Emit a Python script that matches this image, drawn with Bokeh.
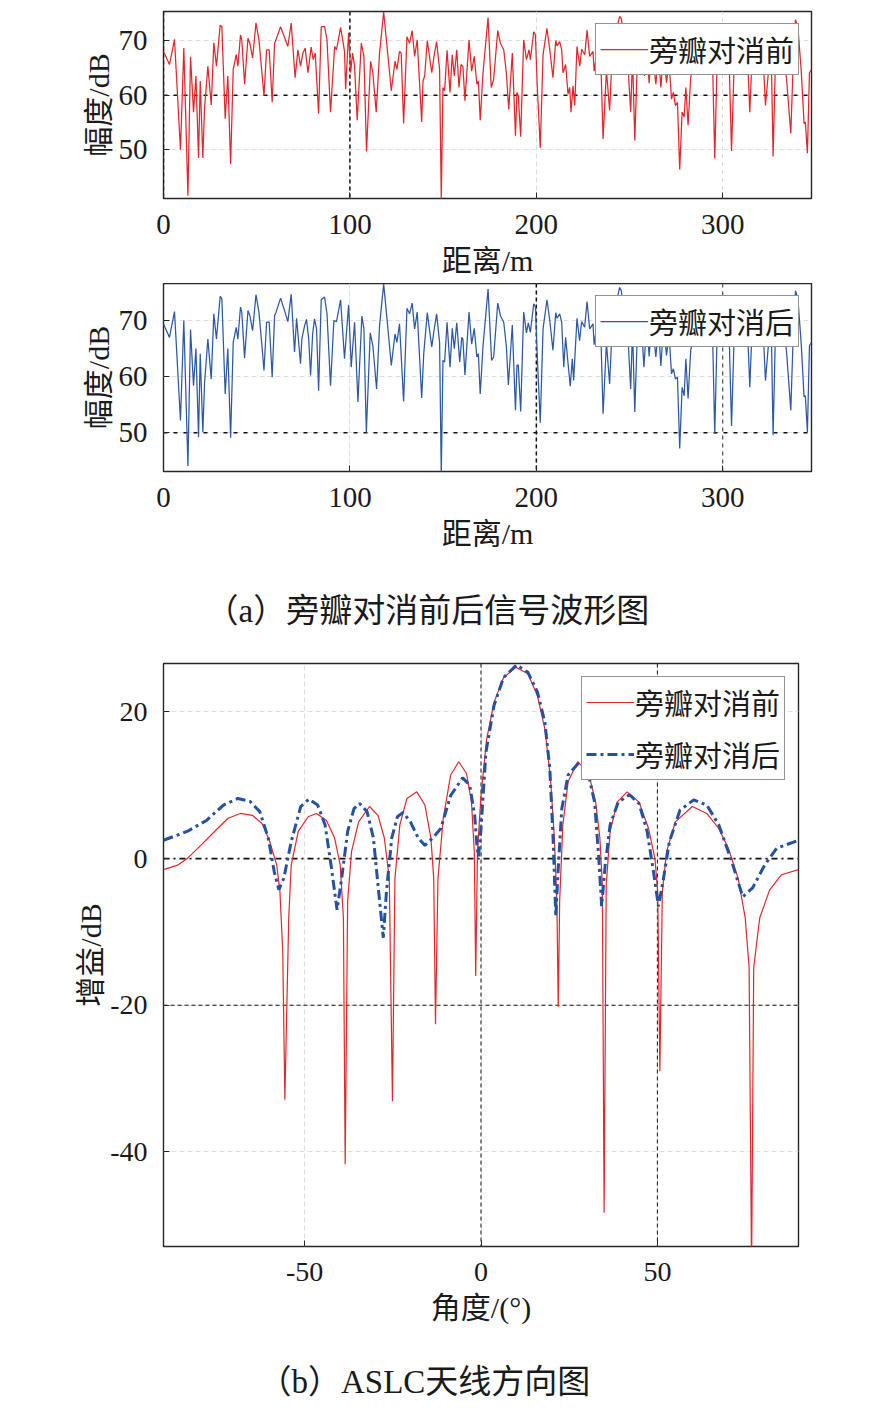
from bokeh.plotting import figure
from bokeh.models import Span, Legend, LegendItem, Range1d, Title, FixedTicker
from bokeh.layouts import column
from bokeh.embed import file_html
from bokeh.resources import INLINE

FONT = "Liberation Serif, Noto Sans CJK SC"

# ---------------- data: range waveform before cancellation ----------------
red_dist = [0, 3.2, 5.9, 9.1, 10.9, 13.1, 14.5, 16.1, 17.4, 18.8, 19.7, 21.1, 22.0, 23.8, 25.6, 27.0, 28.4,
            30.4, 31.3, 33.1, 34.5, 36.0, 37.4, 39.0, 39.9, 41.3, 42.0, 43.5, 45.3, 46.3, 47.8, 49.6, 51.2,
            52.8, 53.9, 55.3, 56.7, 58.3, 59.6, 60.3, 62.8, 64.9, 66.7, 68.5, 70.6, 72.1, 73.5, 74.8, 76.0,
            77.5, 79.2, 80.3, 81.4, 83.2, 84.6, 86.4, 87.7, 89.6, 91.8, 92.8, 95.0, 97.1, 97.7, 99.3, 100.4,
            101.4, 102.5, 103.9, 106.1, 107.5, 108.9, 111.1, 112.3, 114.1,
            115.9, 118.1, 119.9, 122.2, 124.2, 125.2, 126.6, 127.5, 128.8, 130.6, 132.0, 133.4, 134.7, 136.1,
            138.5, 139.2, 140.1, 141.5, 143.9, 145.1, 146.5, 148.1, 149.0, 149.9, 150.8, 152.1, 153.7, 154.9,
            156.0, 157.3, 158.5, 159.6, 160.6, 161.7, 163.9, 165.3, 166.7, 168.1, 168.9, 169.9, 171.4, 174.1,
            175.8, 177.1, 179.3, 180.7, 182.5, 183.9, 185.2, 187.1, 188.8, 189.6, 190.3, 191.6, 193.2, 194.7,
            196.1, 196.8, 198.6, 199.5, 200.4, 202.1, 203.6, 205.7, 207.2, 208.9, 210.4, 211.1, 212.5, 213.6,
            214.3, 215.7, 217.0, 217.9, 218.6, 219.7, 220.6, 221.8, 223.3, 224.3, 226.0, 227.2, 228.6, 230.4,
            231.0, 232.8, 234.6, 235.8, 237.6, 239.3, 240.5, 242.0, 244.7, 245.6, 247.5, 249.0, 250.6, 251.6,
            252.8, 254.2, 256.0, 258.0, 259.3, 260.5, 262.0, 264.1, 265.5, 266.8, 268.3, 269.8, 271.2, 272.5,
            273.5, 274.6, 275.7, 276.9, 278.2, 279.3, 280.2, 281.4, 282.8, 284.6, 286.5, 288.5, 290.5, 292.5,
            294.5, 295.7, 297.0, 299.0, 301.5, 303.5, 304.7, 306.1, 308.0, 310.5, 313.0, 314.5, 315.6, 317.5,
            320.2, 321.5, 322.9, 324.7, 326.0, 327.0, 328.2, 330.0, 332.5, 334.2, 336.5, 337.7, 339.0, 340.3,
            342.1, 343.6, 344.3, 345.4, 346.5, 347.6]
red_amp = [68.0, 65.6, 70.2, 50.0, 68.6, 41.6, 67.0, 56.9, 63.5, 48.5, 62.6, 48.5, 57.5, 65.3, 58.2, 69.6, 65.3,
           72.8, 72.5, 55.7, 63.5, 47.4, 64.7, 67.4, 65.3, 71.0, 70.1, 62.0, 70.4, 69.5, 66.8, 73.2, 70.1,
           64.1, 59.9, 68.3, 68.3, 58.7, 69.5, 70.1, 72.5, 70.6, 68.9, 73.2, 63.2, 68.3, 65.3, 67.7, 68.6,
           64.1, 68.8, 66.5, 67.7, 56.6, 72.5, 72.6, 70.1, 56.9, 68.9, 68.3, 72.4, 68.0, 61.1, 71.4, 64.1,
           67.7, 65.3, 55.4, 69.5, 67.1, 49.7, 66.2, 64.1, 56.9,
           67.7, 75.2, 68.9, 60.8, 66.2, 64.7, 68.0, 67.7, 54.8, 70.7, 69.5, 71.8, 67.1, 70.1,
           55.1, 62.6, 63.5, 70.0, 64.1, 67.1, 69.8, 64.7, 41.0, 61.4, 60.8, 68.2, 60.5, 67.4,
           63.5, 68.3, 61.4, 65.6, 65.3, 59.0, 70.1, 64.4, 67.1, 62.0, 62.6, 55.4, 64.1, 74.2,
           61.4, 62.9, 71.8, 69.5, 68.3, 64.1, 57.4, 67.7, 52.6, 60.5, 59.9, 52.4, 70.1, 66.5,
           68.3, 66.5, 71.6, 71.0, 62.3, 50.4, 67.4, 72.2, 68.3, 63.2, 70.0, 69.0, 69.8, 68.3,
           64.1, 65.6, 60.2, 61.4, 56.9, 61.7, 58.1, 68.9, 65.3, 68.4, 67.4, 71.9, 67.1, 68.0,
           64.4, 68.5, 66.0, 52.0, 64.5, 57.2, 66.0, 70.5, 74.4, 74.0, 69.0, 66.5, 56.9, 67.0,
           51.7, 66.5, 70.0, 63.5, 68.5, 62.2, 69.0, 62.0, 67.5, 61.4, 68.0, 62.3, 66.0, 59.3,
           60.5, 58.1, 58.7, 46.4, 56.9, 56.0, 61.4, 54.5, 63.2, 66.0, 71.0, 67.0, 72.0, 68.0,
           66.5, 48.4, 66.5, 71.5, 68.5, 65.0, 49.8, 65.5, 70.5, 67.0, 69.5, 56.9, 66.0, 71.0,
           66.5, 68.0, 58.1, 65.0, 67.5, 48.8, 65.5, 70.5, 67.5, 63.0, 53.0, 65.0, 73.8, 72.5,
           64.4, 54.8, 55.1, 49.4, 64.1, 64.7]

# ---------------- data: range waveform after cancellation ----------------
blue_dist = [0, 3.2, 5.9, 9.1, 10.9, 13.1, 14.5, 16.1, 17.4, 18.8, 19.7, 21.1, 22.0, 23.8, 25.6, 27.0, 28.4,
             30.4, 31.3, 33.1, 34.5, 36.0, 37.4, 39.0, 39.9, 41.3, 42.0, 43.5, 45.3, 46.3, 47.8, 49.6, 51.2,
             52.8, 53.9, 55.3, 56.7, 58.3, 59.6, 60.3, 62.8, 64.9, 66.7, 68.5, 70.3, 71.4, 73.5, 74.2, 75.7,
             76.7, 77.9, 78.9, 80.0, 81.0, 82.1, 83.2, 84.6, 86.4, 87.7, 89.6, 91.4, 92.8, 95.0, 97.1, 99.3,
             100.7, 102.5, 104.3, 106.4, 107.5, 108.8, 110.9, 112.3, 114.3,
             115.9, 118.1, 119.9, 122.2, 124.2, 125.2, 126.6, 128.8, 130.6, 132.0, 133.4, 134.7, 136.1, 138.5,
             139.6, 141.5, 143.9, 145.1, 146.5, 148.1, 149.0, 149.9, 150.8, 152.1, 153.7, 154.9, 156.0, 157.3,
             158.9, 160.0, 160.6, 161.7, 163.9, 165.3, 166.7, 168.1, 168.9, 169.9, 171.4, 174.1, 176.0, 177.1,
             179.3, 180.7, 182.5, 183.9, 185.0, 187.1, 188.8, 189.6, 190.3, 191.6, 193.2, 194.7, 195.7, 196.8,
             198.6, 199.5, 200.4, 202.1, 203.6, 205.7, 207.2, 208.9, 210.4, 211.1, 212.5, 213.6, 214.7, 215.7,
             217.1, 218.2, 219.3, 220.0, 221.8, 223.2, 224.3, 225.9, 227.2, 228.6, 230.4,
             231.0, 232.8, 234.6, 235.8, 237.6, 239.3, 240.5, 242.0, 244.7, 245.6, 247.5, 249.0, 250.6, 251.6,
             252.8, 254.2, 256.0, 257.7, 259.3, 260.5, 262.0, 264.1, 265.5, 266.8, 268.3, 269.8, 271.2, 272.5,
             273.5, 274.6, 275.7, 276.9, 278.2, 279.3, 280.2, 281.4, 282.8, 284.6, 286.5, 288.5, 290.5, 292.5,
             294.5, 295.7, 297.0, 299.0, 301.5, 303.5, 304.7, 306.1, 308.0, 310.5, 313.0, 314.5, 315.6, 317.5,
             320.2, 321.5, 322.9, 324.7, 326.0, 327.0, 328.2, 330.0, 332.5, 334.2, 336.5, 337.7, 339.0, 340.3,
             342.1, 343.6, 344.3, 345.4, 346.5, 347.6]
blue_amp = [69.4, 67.0, 71.6, 52.2, 70.0, 44.1, 68.4, 58.4, 65.0, 49.2, 64.1, 50.1, 58.7, 66.7, 59.6, 71.2, 66.7,
            74.3, 73.9, 56.9, 65.0, 49.1, 66.1, 68.8, 66.7, 72.4, 71.5, 63.3, 71.8, 70.9, 68.2, 74.6, 71.5,
            65.5, 61.1, 69.7, 69.7, 59.9, 70.9, 71.4, 74.0, 71.8, 69.8, 74.7, 64.4, 70.4, 62.3, 66.7, 69.1,
            70.2, 66.7, 60.2, 67.6, 70.3, 68.5, 57.5, 73.7, 74.2, 71.2, 58.4, 70.0, 69.8, 73.7, 63.2, 72.8,
            61.7, 69.7, 55.5, 70.8, 68.5, 50.0, 67.8, 65.5, 57.8,
            69.1, 76.5, 70.3, 62.0, 67.6, 66.1, 69.4, 55.6, 72.2, 71.2, 73.1, 68.5, 71.5, 56.2,
            64.1, 71.4, 65.3, 68.2, 71.2, 66.1, 42.5, 62.9, 62.6, 69.7, 61.7, 68.6, 65.0, 69.6,
            62.6, 67.0, 66.7, 60.3, 71.5, 65.8, 68.6, 63.5, 64.1, 56.9, 65.5, 75.6, 62.9, 63.5,
            73.1, 70.9, 69.7, 65.5, 58.5, 69.2, 54.0, 62.0, 62.1, 53.8, 71.5, 67.8, 69.6, 67.9,
            73.0, 72.4, 64.4, 51.8, 68.5, 73.7, 70.0, 64.7, 71.4, 70.4, 71.2, 69.7, 61.7, 67.0,
            62.0, 58.3, 63.2, 59.3, 70.4, 66.4, 69.8, 68.8, 73.4, 68.5, 69.4,
            65.7, 70.0, 67.5, 53.4, 66.0, 58.7, 67.5, 72.0, 75.9, 75.3, 70.5, 68.0, 57.8, 68.5,
            53.7, 68.0, 71.5, 61.7, 70.0, 63.6, 70.5, 63.5, 69.0, 61.9, 69.5, 63.8, 67.5, 60.5,
            61.4, 59.6, 59.9, 47.2, 58.1, 56.6, 63.2, 56.1, 64.7, 67.5, 72.5, 68.5, 73.5, 69.5,
            68.0, 49.8, 68.0, 73.0, 70.0, 66.5, 51.2, 67.0, 72.0, 68.5, 71.0, 58.1, 67.5, 72.5,
            68.0, 69.5, 59.3, 66.5, 69.0, 49.6, 67.0, 72.0, 69.0, 64.5, 54.0, 66.5, 75.3, 73.9,
            65.8, 56.4, 56.6, 50.1, 65.5, 66.1]

# ---------------- data: ASLC antenna pattern ----------------
ang_before = [-90, -86.0, -83.3, -79.2, -75.1, -71.7, -68.2, -64.8, -62.1, -60.0, -57.9, -57.0, -56.2, -55.6,
              -54.5, -53.8, -51.8, -49.0, -46.6, -43.8, -41.5, -39.9, -39.0, -38.5, -37.8, -36.7, -34.7,
              -31.6, -29.2, -27.4, -26.0, -25.1, -24.4, -23.0, -21.0, -18.2, -15.9, -14.2, -13.4, -12.9,
              -12.2, -10.7, -8.6, -6.3, -4.1, -2.7, -1.9, -1.5, -1.0, 0.0, 1.6, 3.7, 6.4, 9.9, 13.3, 16.0,
              18.1, 19.7, 20.8, 21.5, 21.9, 22.3, 23.2, 24.7, 27.4, 30.4, 32.5, 33.7, 34.4, 34.9, 35.5, 36.6,
              38.6, 41.4, 44.8, 47.5, 49.3, 50.1, 50.7, 51.4, 52.6, 55.1, 59.9, 64.0, 67.4, 70.1, 72.9, 74.9,
              76.0, 76.7, 77.3, 79.0, 81.8, 85.2, 90]
gain_before = [-1.5, -0.9, 0.0, 1.9, 3.9, 5.5, 6.15, 5.9, 4.8, 2.5, -0.9, -4.5, -12.6, -32.9,
               -8.1, -0.9, 3.7, 5.7, 6.15, 5.2, 2.8, -0.9, -8.1, -41.7, -5.8, 0.95, 5.0,
               7.1, 5.9, 2.8, -2.7, -33.1, -2.7, 4.6, 8.2, 9.1, 7.3, 2.8, -2.7, -22.6,
               -2.7, 5.5, 11.4, 13.2, 11.6, 7.7, 0.95, -16.0, 0.95, 8.6, 16.3, 21.3, 24.7, 26.1, 25.2, 22.2,
               17.7, 10.9, 2.8, -5.8, -20.2, -5.8, 4.6, 10.5, 13.2, 11.8, 7.7, 2.8, -3.6, -48.3, -3.6, 3.7,
               7.7, 9.1, 7.7, 4.1, 0.0, -4.5, -29.0, -4.5, 0.95, 5.0, 7.1, 6.15, 4.1, 1.4, -2.7, -8.1,
               -14.9, -56.0, -14.9, -8.1, -4.3, -2.2, -1.5]
ang_after = [-90, -83.3, -77.8, -73.0, -68.9, -65.5, -62.7, -60.3, -58.6, -57.3, -55.9, -53.8, -51.1, -48.8,
             -46.3, -44.2, -42.5, -40.8, -39.5, -37.8, -36.0, -34.4, -32.3, -30.5, -29.2, -27.7, -26.8,
             -25.3, -23.7, -22.1, -20.0, -17.8, -15.9, -13.7, -11.4, -8.6, -5.2, -3.2, -1.8, -1.1, -0.7, 0.0,
             1.4, 3.7, 6.4, 10.1, 13.3, 16.0, 18.1, 19.5, 20.4, 21.2, 21.9, 22.9, 24.7, 27.4, 30.4, 32.2,
             33.4, 34.2, 35.2, 36.6, 38.9, 42.1, 44.8, 47.1, 48.9, 50.3, 51.6, 53.4, 56.4, 60.3, 64.0, 67.4,
             70.8, 74.2, 77.0, 80.4, 83.8, 90]
gain_after = [2.5, 3.7, 5.2, 7.3, 8.2, 7.8, 6.4, 2.8, -1.8, -4.25, -2.7, 2.3, 7.1, 8.1,
              7.3, 4.6, -0.9, -7.0, -2.7, 3.7, 6.8, 7.5, 6.4, 2.8, -3.6, -10.8, -4.5,
              2.8, 5.7, 6.3, 5.0, 2.8, 1.8, 2.8, 4.1, 8.6, 11.0, 10.0, 5.9, 1.4, 0.3, 4.1,
              14.5, 20.9, 24.7, 26.4, 25.4, 22.7, 18.6, 12.3, 3.2, -7.9, -1.3, 6.8, 11.4, 12.9, 11.6, 7.7,
              0.0, -6.5, -0.9, 4.6, 7.7, 8.7, 7.5, 3.7, -1.8, -6.5, -3.1, 2.3, 6.6, 8.0, 7.3, 4.6,
              0.0, -5.2, -4.0, -0.9, 1.4, 2.5]

wave_ticks_x = [0, 100, 200, 300]
wave_ticks_y = [50, 60, 70]
pat_ticks_x = [-50, 0, 50]
pat_ticks_y = [-40, -20, 0, 20]

RED = "#e2262b"
BLUE_W = "#2c58a6"
BLUE_P = "#2451a3"
INK = "#1a1a1a"


def hyphen_labels(ticks):
    return {t: str(t) for t in ticks if t < 0}


def base_fig(fw, fh, xr, yr, left, right, top, bottom, xt, yt, xlabel, ylabel, tick_size):
    p = figure(frame_width=fw, frame_height=fh, x_range=Range1d(*xr), y_range=Range1d(*yr),
               output_backend="svg", toolbar_location=None, title=None,
               min_border_left=left, min_border_right=right, min_border_top=top, min_border_bottom=bottom,
               background_fill_color="white", border_fill_color="white")
    p.outline_line_color = "#262626"
    p.outline_line_width = 1.4
    p.xaxis.ticker = FixedTicker(ticks=xt)
    p.yaxis.ticker = FixedTicker(ticks=yt)
    p.xaxis.major_label_overrides = hyphen_labels(xt)
    p.yaxis.major_label_overrides = hyphen_labels(yt)
    p.xaxis.axis_label = xlabel
    p.yaxis.axis_label = ylabel
    for ax in (p.xaxis[0], p.yaxis[0]):
        ax.axis_line_color = None
        ax.major_tick_in = 6
        ax.major_tick_out = 0
        ax.minor_tick_in = 0
        ax.minor_tick_out = 0
        ax.major_tick_line_color = "#262626"
        ax.major_label_text_font = FONT
        ax.major_label_text_font_size = tick_size
        ax.major_label_text_color = INK
        ax.axis_label_text_font = FONT
        ax.axis_label_text_font_size = "30px"
        ax.axis_label_text_font_style = "normal"
        ax.axis_label_text_color = INK
    p.xaxis.major_label_standoff = 16
    p.yaxis.major_label_standoff = 16
    p.xaxis.axis_label_standoff = 7
    p.yaxis.axis_label_standoff = 1
    p.xgrid.grid_line_color = "#dedede"
    p.ygrid.grid_line_color = "#dedede"
    p.xgrid.grid_line_dash = "5 3"
    p.ygrid.grid_line_dash = "5 3"
    return p


def add_span(p, loc, dim, dash, width=1.5, color="#111111"):
    p.add_layout(Span(location=loc, dimension=dim, line_color=color, line_dash=dash,
                      line_width=width, level="underlay"))


def style_legend(leg, margin):
    leg.location = "top_right"
    leg.margin = margin
    leg.border_line_color = "#262626"
    leg.border_line_width = 1.2
    leg.background_fill_color = "white"
    leg.background_fill_alpha = 1.0
    leg.label_text_font = FONT
    leg.label_text_font_size = "29px"
    leg.label_text_color = INK
    leg.glyph_width = 48
    leg.glyph_height = 26
    leg.label_standoff = 1
    leg.padding = 4
    leg.spacing = 6


def caption(p, text, offset, standoff):
    p.add_layout(Title(text=text, align="left", offset=offset, vertical_align="bottom",
                       text_font=FONT, text_font_size="33px", text_font_style="normal",
                       text_color=INK, standoff=standoff), "above")


# ---------------- panel 1 ----------------
p1 = base_fig(648, 187, (0, 347.6), (41.1, 75.3), 160, 66, 11, 85,
              wave_ticks_x, wave_ticks_y, "距离/m", "幅度/dB", "29px")
add_span(p1, 0, "height", "4 3")
add_span(p1, 100, "height", "4 3")
add_span(p1, 60, "width", "4 6")
r1 = p1.line(red_dist, red_amp, line_color=RED, line_width=1.25)
leg1 = Legend(items=[LegendItem(label="旁瓣对消前", renderers=[r1])])
style_legend(leg1, 12)
p1.add_layout(leg1, "center")

# ---------------- panel 2 ----------------
p2 = base_fig(648, 188, (0, 347.6), (43.1, 76.6), 160, 66, 0, 80,
              wave_ticks_x, wave_ticks_y, "距离/m", "幅度/dB", "29px")
add_span(p2, 200, "height", "4 3")
add_span(p2, 300, "height", "4 4", width=1.0, color="#333333")
add_span(p2, 50, "width", "4 6")
r2 = p2.line(blue_dist, blue_amp, line_color=BLUE_W, line_width=1.25)
leg2 = Legend(items=[LegendItem(label="旁瓣对消后", renderers=[r2])])
style_legend(leg2, 12)
p2.add_layout(leg2, "center")

# ---------------- panel 3 ----------------
p3 = base_fig(635, 583, (-90, 90), (-52.9, 26.6), 163, 76, 111, 80,
              pat_ticks_x, pat_ticks_y, "角度/(°)", "增益/dB", "28px")
p3.yaxis[0].axis_label_standoff = 0
add_span(p3, 0, "height", "4 3", width=1.0)
add_span(p3, 50, "height", "4 3", width=1.0)
add_span(p3, 0, "width", "6 4 2 4", width=1.8)
add_span(p3, -20, "width", "4 3", width=1.0)
r3a = p3.line(ang_before, gain_before, line_color=RED, line_width=1.2)
r3b = p3.line(ang_after, gain_after, line_color=BLUE_P, line_width=3, line_dash="10 4 3 4")
leg3 = Legend(items=[LegendItem(label="旁瓣对消前", renderers=[r3a]),
                     LegendItem(label="旁瓣对消后", renderers=[r3b])])
style_legend(leg3, 13)
leg3.spacing = 10
p3.add_layout(leg3, "center")
caption(p3, "（a）旁瓣对消前后信号波形图", 42, 70)

# ---------------- caption strip (b) ----------------
p4 = figure(frame_width=635, frame_height=1, x_axis_type=None, y_axis_type=None,
            output_backend="svg", toolbar_location=None, title=None,
            min_border_left=163, min_border_right=76, min_border_top=75, min_border_bottom=0,
            background_fill_color="white", border_fill_color="white")
p4.outline_line_color = None
p4.xgrid.visible = False
p4.ygrid.visible = False
caption(p4, "（b）ASLC天线方向图", 95, 4)

layout = column(p1, p2, p3, p4, spacing=0)
open("out.html", "w").write(file_html(layout, INLINE))
